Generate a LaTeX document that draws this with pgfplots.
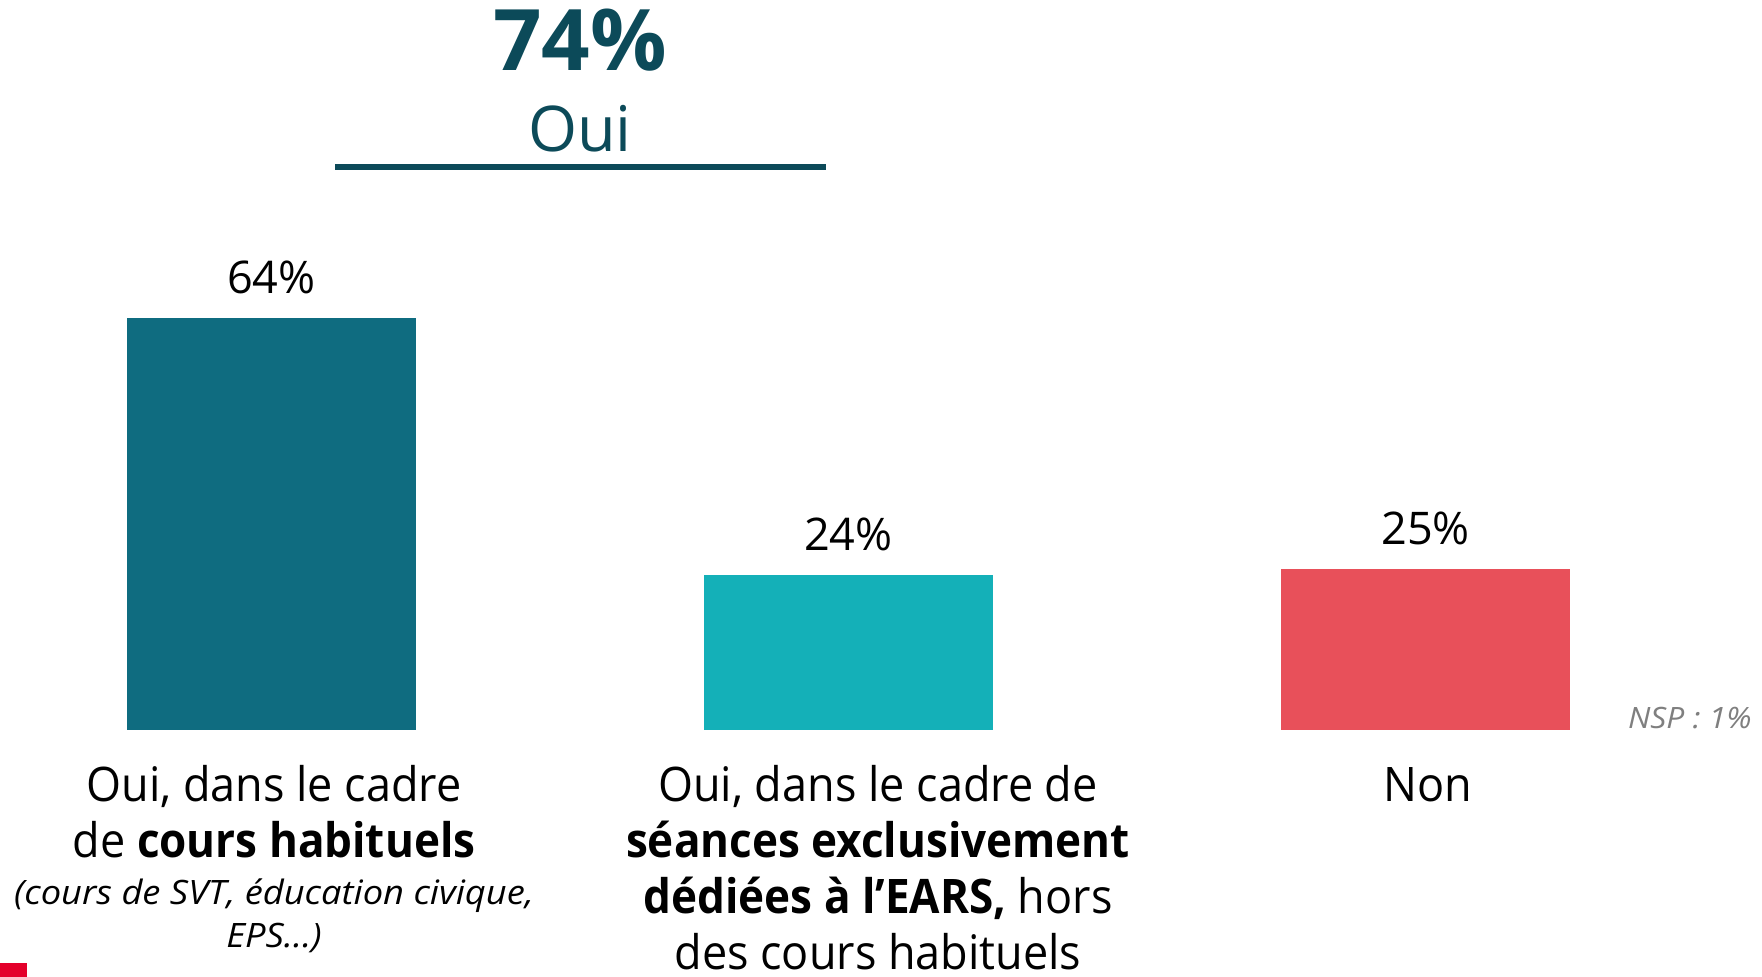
\documentclass[border=0pt]{standalone}
\usepackage{pgfplots}
\pgfplotsset{compat=1.18}
\usepackage{fontspec}
\setmainfont{Open Sans}
\newfontfamily\lreg{Open Sans}[FakeStretch=0.945]
\newfontfamily\lbold{Open Sans}[FakeStretch=0.925]
\newfontfamily\lital{Open Sans}[FakeStretch=1.08]
\newcommand{\B}[1]{{\lbold\bfseries #1}}
\definecolor{cA}{RGB}{15,108,128}
\definecolor{cB}{RGB}{20,176,184}
\definecolor{cC}{RGB}{232,80,90}
\definecolor{ctitle}{RGB}{12,74,89}
\definecolor{cgrey}{RGB}{127,127,127}
\definecolor{clogo}{RGB}{228,0,43}
\begin{document}
\begin{tikzpicture}
\path[use as bounding box] (0pt,0pt) rectangle (881pt,488.5pt);
\begin{axis}[at={(135.75pt,123.5pt)}, anchor=origin,
  scale only axis, width=836.65pt, height=225.3pt,
  xmin=-0.45, xmax=2.45, ymin=0, ymax=70,
  hide axis, clip=false,
  /pgf/number format/assume math mode=true,
  every node near coord/.style={anchor=base, yshift=12.5pt, font=\fontsize{22.5pt}{26pt}\selectfont, text=black},
  nodes near coords={\pgfmathprintnumber{\pgfplotspointmeta}\%}]
\addplot[ybar, bar width=144.5pt, bar shift=0pt, fill=cA, draw=none] coordinates {(0,64)};
\addplot[ybar, bar width=144.5pt, bar shift=0pt, fill=cB, draw=none] coordinates {(1,24)};
\addplot[ybar, bar width=144.5pt, bar shift=0pt, fill=cC, draw=none] coordinates {(2,25)};
\end{axis}
\begin{scope}[x=0.5pt, y=-0.5pt, shift={(0pt,488.5pt)}]
  \node[anchor=base, text=ctitle, inner sep=0pt, font=\fontsize{42.5pt}{50pt}\selectfont\bfseries] at (580,71) {74\%};
  \node[anchor=base, text=ctitle, inner sep=0pt, font=\fontsize{31.5pt}{38pt}\selectfont] at (580,152) {Oui};
  \draw[ctitle, line width=3pt] (335,167) -- (826,167);
  % category labels
  \begin{scope}[every node/.style={anchor=base, inner sep=0pt, font=\fontsize{23.8pt}{28pt}\selectfont\lreg}]
    \node at (274,802) {Oui, dans le cadre};
    \node at (274,858) {de \B{cours habituels}};
    \node at (878,802) {Oui, dans le cadre de};
    \node at (878,858) {\B{séances exclusivement}};
    \node at (878,914) {\B{dédiées à l’EARS,} hors};
    \node at (878,970) {des cours habituels};
    \node at (1428,802) {Non};
  \end{scope}
  \begin{scope}[every node/.style={anchor=base, inner sep=0pt, font=\fontsize{16.8pt}{20pt}\selectfont\lital\itshape}]
    \node at (274,905) {(cours de SVT, éducation civique,};
    \node at (274,948) {EPS…)};
  \end{scope}
  \node[anchor=base east, inner sep=0pt, text=cgrey, font=\fontsize{14.7pt}{18pt}\selectfont\lital\itshape] at (1752,729) {NSP : 1\%};
  \fill[clogo] (0,963) rectangle (27,977);
\end{scope}
\end{tikzpicture}
\end{document}
